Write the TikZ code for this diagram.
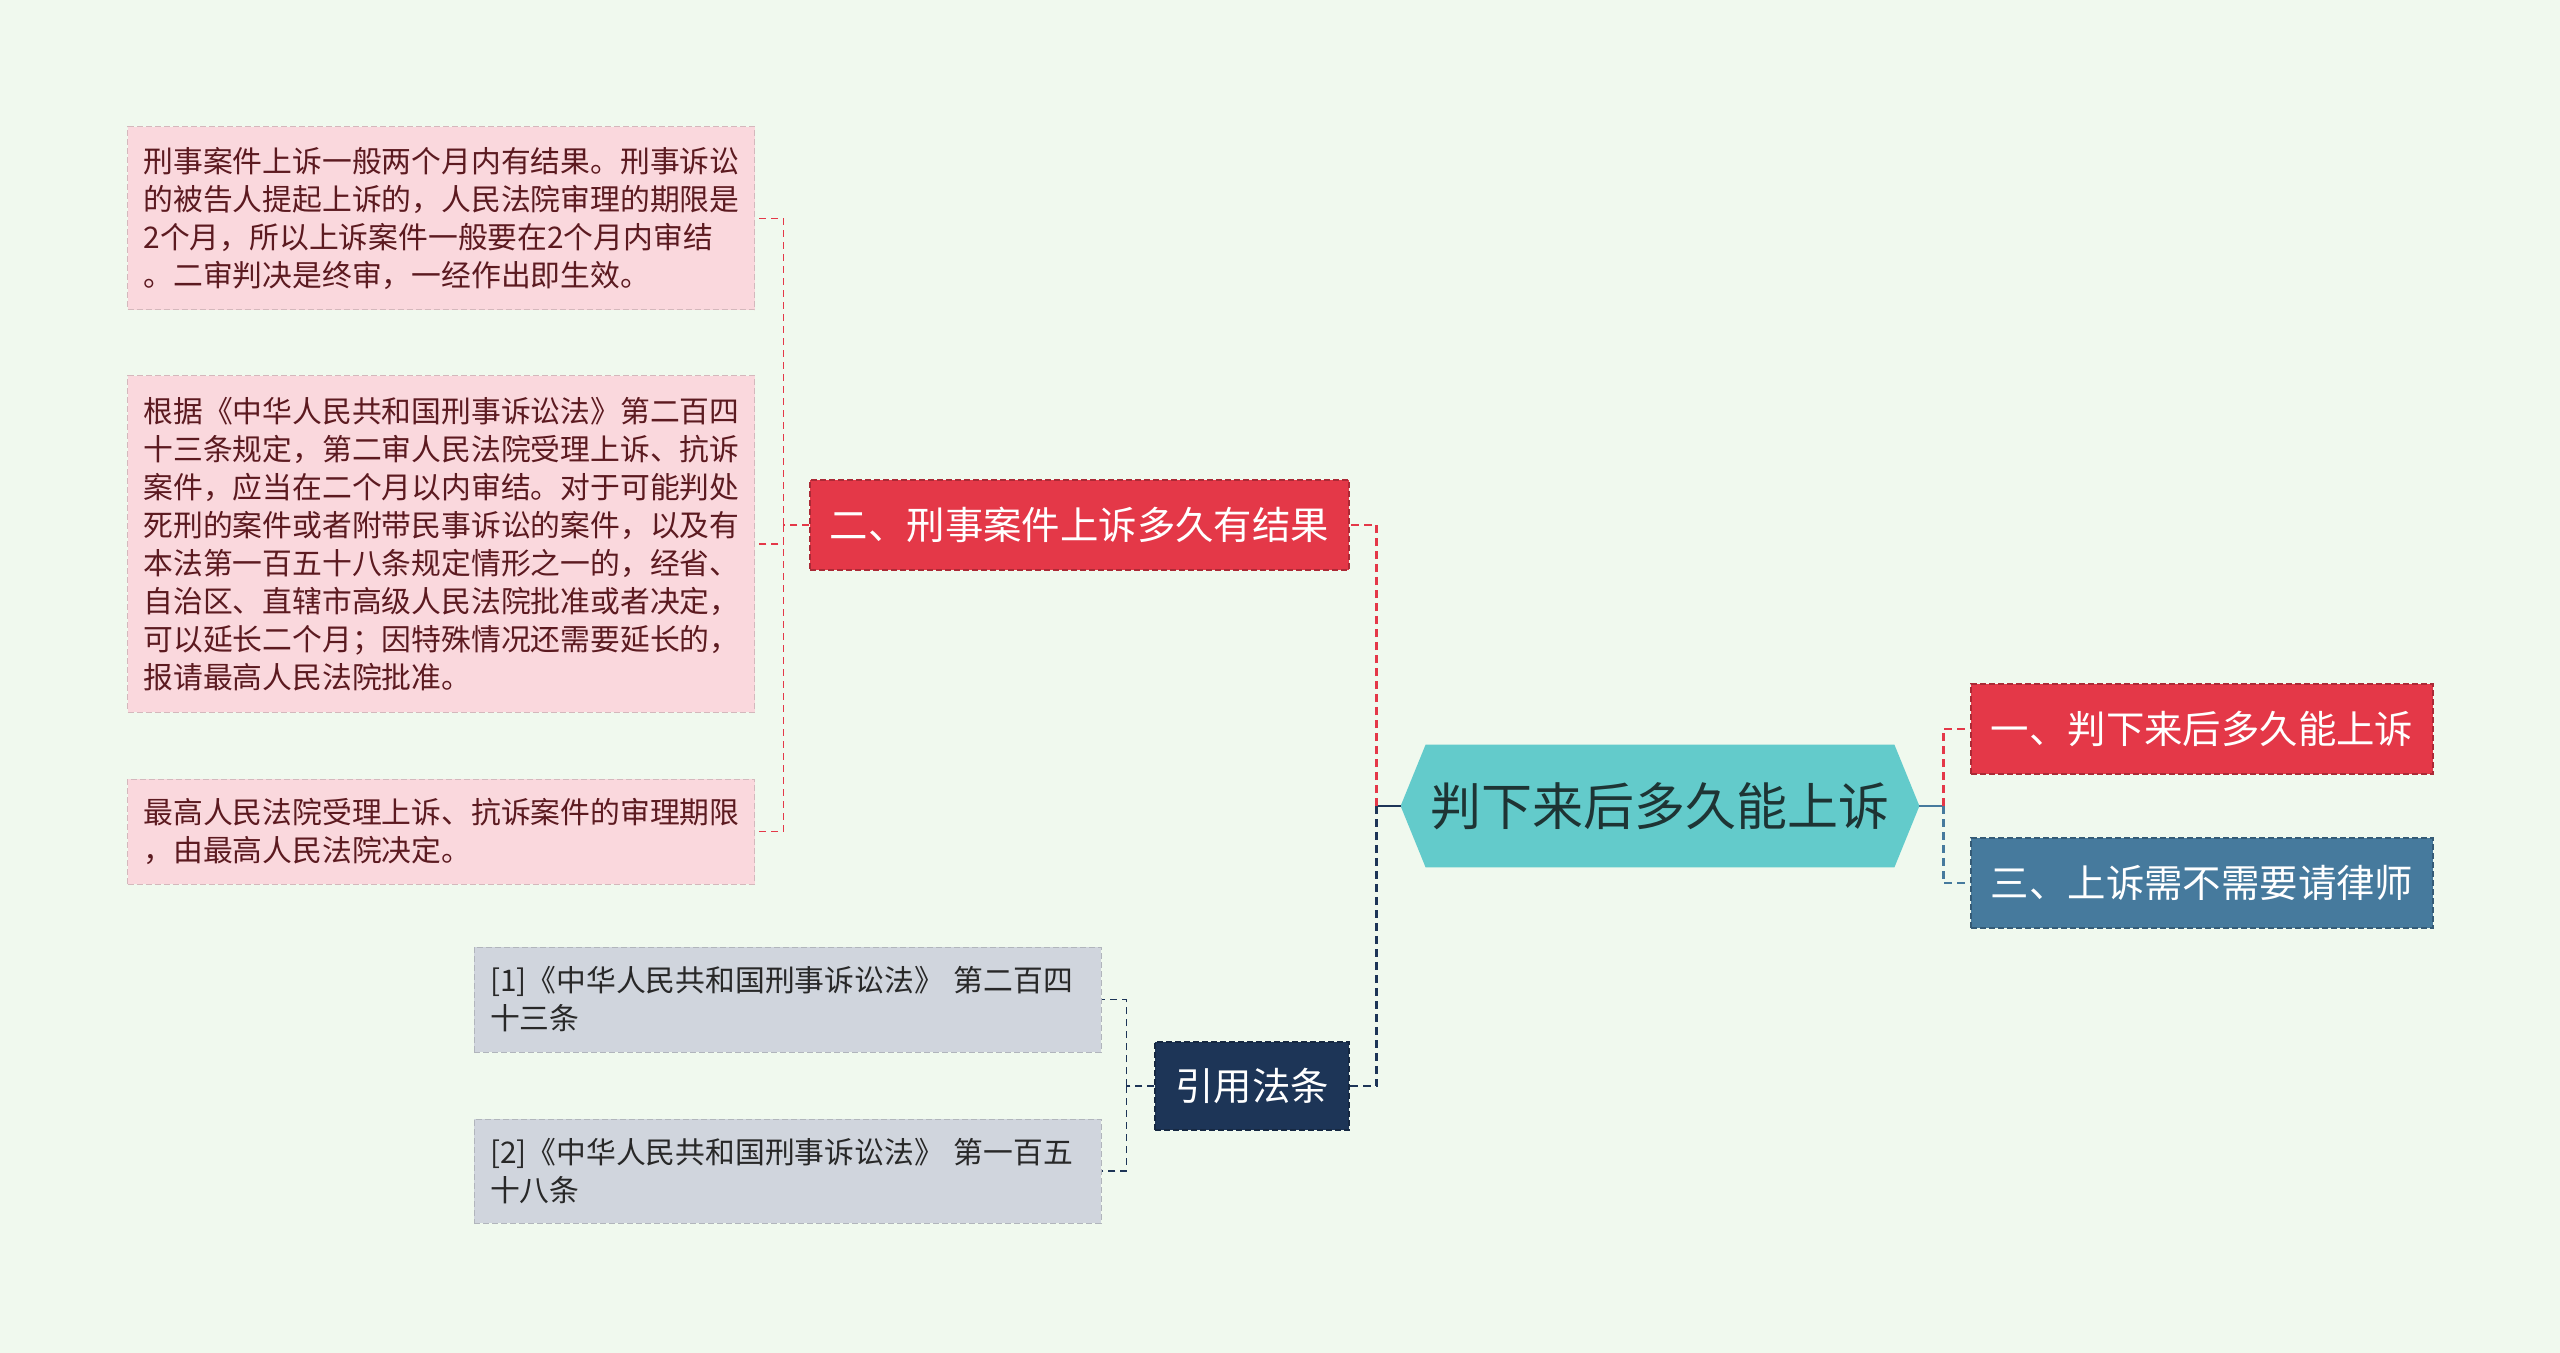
\documentclass[tikz,border=0pt]{standalone}
\usepackage{fontspec}
\setmainfont{Noto Sans CJK SC}
\usetikzlibrary{positioning, calc, backgrounds}
\definecolor{bgMint}{RGB}{240, 249, 238}
\definecolor{rootTeal}{RGB}{99, 203, 203}
\definecolor{rootText}{RGB}{30, 52, 52}
\definecolor{topicRed}{RGB}{228, 56, 72}
\definecolor{topicBlue}{RGB}{70, 122, 157}
\definecolor{topicNavy}{RGB}{29, 53, 87}
\definecolor{leafPink}{RGB}{250, 216, 221}
\definecolor{leafPinkText}{RGB}{92, 26, 32}
\definecolor{leafGray}{RGB}{208, 213, 221}
\definecolor{leafGrayText}{RGB}{40, 40, 40}

\begin{document}
\begin{tikzpicture}[x=0.5pt, y=-0.5pt,
    rootnode/.style={minimum width=259pt, minimum height=61pt, inner sep=0pt,
      text=rootText, font=\fontsize{25.5pt}{30pt}\selectfont},
    topic/.style={draw=#1!75!black, dash pattern=on 3pt off 1.5pt, line width=0.6pt,
      fill=#1, text=white, font=\fontsize{19.2pt}{22pt}\selectfont,
      minimum height=45pt, inner sep=0pt},
    leaf/.style={draw=#1!85!black, dash pattern=on 3pt off 1.5pt, line width=0.5pt,
      fill=#1, align=left, text width=297.5pt, inner xsep=8pt, inner ysep=0pt,
      font=\fontsize{14.9pt}{19pt}\selectfont},
    stub/.style={draw=#1, line width=1.3pt},
    link/.style={draw=#1, line width=1.2pt, dash pattern=on 4pt off 2.5pt},
    twig/.style={draw=#1, line width=0.9pt, dash pattern=on 3.5pt off 2.5pt}]

    \useasboundingbox (0,0) rectangle (2560,1353);

    %% ── centre ──────────────────────────────────────────────
    \node[rootnode] (root) at (1660,806) {判下来后多久能上诉};

    %% ── right topics ────────────────────────────────────────
    \node[topic=topicRed, minimum width=231pt] (t1) at (2202,729) {一、判下来后多久能上诉};
    \node[topic=topicBlue, minimum width=231pt] (t3) at (2202,883) {三、上诉需不需要请律师};

    %% ── left topics ─────────────────────────────────────────
    \node[topic=topicRed, minimum width=269.5pt] (t2) at (1079.5,525) {二、刑事案件上诉多久有结果};
    \node[topic=topicNavy, minimum width=97pt, minimum height=44pt] (cite) at (1252,1086) {引用法条};

    %% ── pink leaves of t2 ───────────────────────────────────
    \node[leaf=leafPink, text=leafPinkText, minimum height=91.5pt] (p1) at (441,218.5)
      {刑事案件上诉一般两个月内有结果。刑事诉讼\\
       的被告人提起上诉的，人民法院审理的期限是\\
       2个月，所以上诉案件一般要在2个月内审结\\
       。二审判决是终审，一经作出即生效。};
    \node[leaf=leafPink, text=leafPinkText, minimum height=168pt] (p2) at (441,544)
      {根据《中华人民共和国刑事诉讼法》第二百四\\
       十三条规定，第二审人民法院受理上诉、抗诉\\
       案件，应当在二个月以内审结。对于可能判处\\
       死刑的案件或者附带民事诉讼的案件，以及有\\
       本法第一百五十八条规定情形之一的，经省、\\
       自治区、直辖市高级人民法院批准或者决定，\\
       可以延长二个月；因特殊情况还需要延长的，\\
       报请最高人民法院批准。};
    \node[leaf=leafPink, text=leafPinkText, minimum height=52.5pt] (p3) at (441,831.5)
      {最高人民法院受理上诉、抗诉案件的审理期限\\
       ，由最高人民法院决定。};

    %% ── gray leaves of cite ─────────────────────────────────
    \node[leaf=leafGray, text=leafGrayText, minimum height=52.5pt] (g1) at (787.5,999.5)
      {[1]《中华人民共和国刑事诉讼法》 第二百四\\
       十三条};
    \node[leaf=leafGray, text=leafGrayText, minimum height=52pt] (g2) at (787.5,1171)
      {[2]《中华人民共和国刑事诉讼法》 第一百五\\
       十八条};

    %% ── background + hexagon ────────────────────────────────
    \begin{scope}[on background layer]
      \fill[bgMint] (0,0) rectangle (2560,1353);
      \fill[rootTeal] ([xshift=12.5pt]root.north west) -- ([xshift=-12.5pt]root.north east)
        -- (root.east) -- ([xshift=-12.5pt]root.south east)
        -- ([xshift=12.5pt]root.south west) -- (root.west) -- cycle;
    \end{scope}

    %% ── connectors ──────────────────────────────────────────
    \coordinate (jl) at ([xshift=-12pt]root.west);
    \coordinate (jr) at ([xshift=12pt]root.east);
    \draw[stub=topicNavy] (root.west) -- (jl);
    \draw[link=topicRed] (jl) |- (t2.east);
    \draw[link=topicNavy] (jl) |- (cite.east);
    \draw[stub=topicBlue] (root.east) -- (jr);
    \draw[link=topicRed] (jr) |- (t1.west);
    \draw[link=topicBlue] (jr) |- (t3.west);

    \coordinate (j2) at ([xshift=-13pt]t2.west);
    \draw[twig=topicRed] (t2.west) -- (j2);
    \draw[twig=topicRed] (j2) |- (p1.east);
    \draw[twig=topicRed] (j2) |- (p2.east);
    \draw[twig=topicRed] (j2) |- (p3.east);

    \coordinate (jc) at ([xshift=-14pt]cite.west);
    \draw[twig=topicNavy] (cite.west) -- (jc);
    \draw[twig=topicNavy] (jc) |- (g1.east);
    \draw[twig=topicNavy] (jc) |- (g2.east);

\end{tikzpicture}
\end{document}
